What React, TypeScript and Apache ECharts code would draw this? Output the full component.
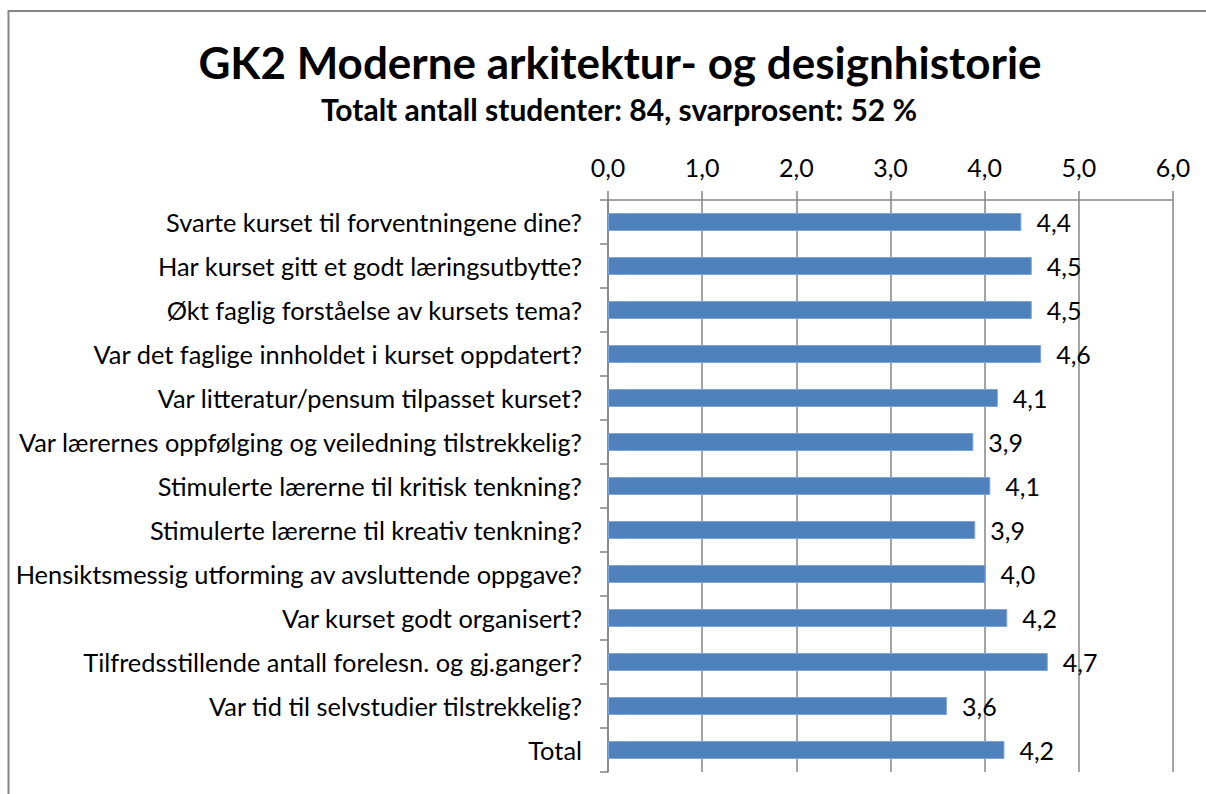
import React, { useEffect, useRef } from "react";
import * as echarts from "echarts";

const titleText = "GK2 Moderne arkitektur- og designhistorie";
const subtitleText = "Totalt antall studenter: 84, svarprosent: 52 %";

const categories = [
  "Svarte kurset til forventningene dine?",
  "Har kurset gitt et godt læringsutbytte?",
  "Økt faglig forståelse av kursets tema?",
  "Var det faglige innholdet i kurset oppdatert?",
  "Var litteratur/pensum tilpasset kurset?",
  "Var lærernes oppfølging og veiledning tilstrekkelig?",
  "Stimulerte lærerne til kritisk tenkning?",
  "Stimulerte lærerne til kreativ tenkning?",
  "Hensiktsmessig utforming av avsluttende oppgave?",
  "Var kurset godt organisert?",
  "Tilfredsstillende antall forelesn. og gj.ganger?",
  "Var tid til selvstudier tilstrekkelig?",
  "Total",
];

const values = [4.39, 4.5, 4.5, 4.6, 4.14, 3.88, 4.06, 3.9, 4.01, 4.24, 4.67, 3.6, 4.21];

const axisTicks = [0, 1, 2, 3, 4, 5, 6];

const FONT = "Lato, 'Open Sans', sans-serif";

export default function App() {
  const ref = useRef<HTMLDivElement>(null);
  useEffect(() => {
    if (!ref.current) return;
    const chart = echarts.init(ref.current, null, { renderer: "svg" });
    chart.setOption({
      animation: false,
      backgroundColor: "#ffffff",
      graphic: [
        {
          type: "rect",
          shape: { x: 8.5, y: 11, width: 1400, height: 1000 },
          style: { fill: "none", stroke: "#868686", lineWidth: 2 },
          z: 100,
        },
      ],
      title: [
        {
          text: titleText,
          left: 615,
          top: 35,
          textAlign: "center",
          textStyle: { fontFamily: FONT, fontWeight: "bold", fontSize: 44, color: "#000" },
        },
        {
          text: subtitleText,
          left: 614,
          top: 89,
          textAlign: "center",
          textStyle: { fontFamily: FONT, fontWeight: "bold", fontSize: 30, color: "#000" },
        },
      ],
      grid: { left: 608, right: 33, top: 200, bottom: 22, containLabel: false },
      xAxis: {
        type: "value",
        position: "top",
        min: axisTicks[0],
        max: axisTicks[axisTicks.length - 1],
        interval: 1,
        axisLine: { show: true, lineStyle: { color: "#868686", width: 1.5 } },
        axisTick: { show: true, length: 9, inside: false, lineStyle: { color: "#868686", width: 1.5 } },
        splitLine: { show: true, lineStyle: { color: "#868686", width: 1.5 } },
        axisLabel: {
          fontFamily: FONT,
          fontSize: 25,
          color: "#000",
          margin: 21,
          formatter: (v: number) => v.toFixed(1).replace(".", ","),
        },
      },
      yAxis: {
        type: "category",
        inverse: true,
        data: categories,
        axisLine: { show: true, lineStyle: { color: "#868686", width: 1.5 } },
        axisTick: { show: true, length: 8, inside: false, lineStyle: { color: "#868686", width: 1.5 } },
        axisLabel: { fontFamily: FONT, fontSize: 25.4, color: "#000", margin: 26 },
      },
      series: [
        {
          type: "bar",
          data: values,
          barWidth: 18,
          itemStyle: { color: "#4F81BD", borderColor: "#7fa3d4", borderWidth: 1 },
          label: {
            show: true,
            position: "right",
            distance: 15,
            fontFamily: FONT,
            fontSize: 25,
            color: "#000",
            formatter: (p: any) => (p.value as number).toFixed(1).replace(".", ","),
          },
        },
      ],
    });
    return () => chart.dispose();
  }, []);
  return (
    <div
      ref={ref}
      style={{ position: "fixed", left: 0, top: 0, width: 1206, height: 794 }}
    />
  );
}
